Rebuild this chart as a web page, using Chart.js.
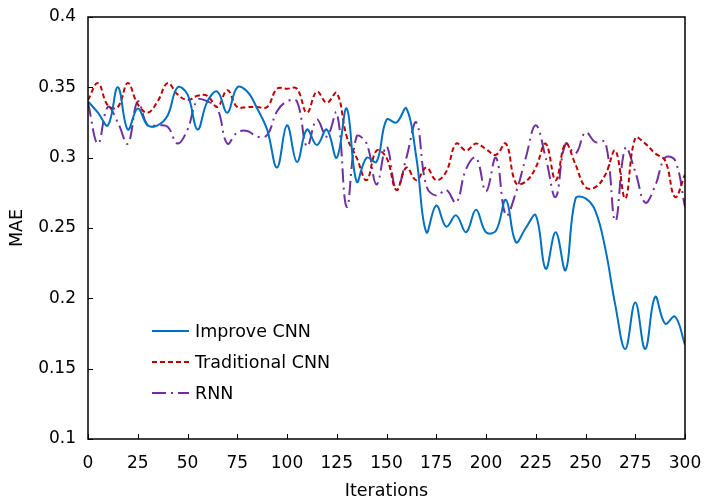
<!DOCTYPE html>
<html lang="en">
<head>
  <meta charset="utf-8">
  <title>MAE vs Iterations</title>
  <script src="https://cdn.jsdelivr.net/npm/chart.js"></script>
  <style>
    body { margin: 0; background: #fff; }
    .wrap { width: 704px; height: 502px; position: relative; }
  </style>
</head>
<body>
  <div class="wrap"><canvas id="maeChart"></canvas></div>

  <script>
    // iteration steps (x axis)
    const iterations = [0, 5, 10, 15, 20, 25, 30, 35, 40, 45, 50, 55, 60, 65, 70, 75, 80, 85, 90, 95,
      100, 105, 110, 115, 120, 125, 130, 135, 140, 145, 150, 155, 160, 165, 170, 175, 180, 185, 190, 195,
      200, 205, 210, 215, 220, 225, 230, 235, 240, 245, 250, 255, 260, 265, 270, 275, 280, 285, 290, 295, 300];

    const improveCnn = [0.340, 0.332, 0.323, 0.350, 0.320, 0.335, 0.323, 0.323, 0.330, 0.350, 0.345, 0.320, 0.340, 0.347, 0.332, 0.350, 0.347, 0.335, 0.320, 0.293,
      0.323, 0.297, 0.320, 0.309, 0.320, 0.300, 0.335, 0.283, 0.300, 0.297, 0.327, 0.325, 0.335, 0.300, 0.247, 0.266, 0.251, 0.259, 0.247, 0.263,
      0.247, 0.248, 0.270, 0.240, 0.250, 0.259, 0.221, 0.247, 0.220, 0.271, 0.271, 0.262, 0.235, 0.195, 0.164, 0.197, 0.164, 0.201, 0.182, 0.187, 0.167];

    const traditionalCnn = [0.341, 0.353, 0.337, 0.336, 0.353, 0.338, 0.332, 0.340, 0.353, 0.345, 0.341, 0.344, 0.344, 0.336, 0.348, 0.336, 0.336, 0.336, 0.336, 0.349,
      0.349, 0.349, 0.332, 0.347, 0.339, 0.346, 0.315, 0.300, 0.284, 0.305, 0.300, 0.277, 0.293, 0.284, 0.293, 0.284, 0.290, 0.310, 0.305, 0.310,
      0.306, 0.302, 0.310, 0.282, 0.283, 0.293, 0.310, 0.284, 0.310, 0.295, 0.279, 0.279, 0.288, 0.305, 0.271, 0.314, 0.310, 0.303, 0.298, 0.272, 0.288];

    const rnn = [0.339, 0.310, 0.336, 0.325, 0.310, 0.340, 0.323, 0.323, 0.322, 0.310, 0.320, 0.341, 0.340, 0.335, 0.310, 0.318, 0.319, 0.315, 0.316, 0.333,
      0.340, 0.340, 0.308, 0.327, 0.315, 0.332, 0.265, 0.315, 0.310, 0.281, 0.308, 0.277, 0.300, 0.325, 0.280, 0.273, 0.277, 0.268, 0.292, 0.300,
      0.276, 0.300, 0.259, 0.275, 0.300, 0.323, 0.300, 0.272, 0.310, 0.303, 0.318, 0.311, 0.311, 0.255, 0.307, 0.290, 0.268, 0.280, 0.300, 0.298, 0.265];

    const seriesNames = ['Improve CNN', 'Traditional CNN', 'RNN'];
    const xTicks = [0, 25, 50, 75, 100, 125, 150, 175, 200, 225, 250, 275, 300];
    const yTicks = [0.1, 0.15, 0.2, 0.25, 0.3, 0.35, 0.4];

    const FONT = 'DejaVu Sans, Verdana, sans-serif';

    function toPoints(values) {
      return values.map((v, i) => ({ x: iterations[i], y: v }));
    }

    // frame box + inward tick marks + legend drawn inside the plot
    const framePlugin = {
      id: 'frame',
      afterDraw(chart) {
        const { ctx, chartArea: a, scales } = chart;
        ctx.save();
        ctx.strokeStyle = '#000';
        ctx.lineWidth = 1.5;
        ctx.setLineDash([]);
        ctx.strokeRect(a.left, a.top, a.right - a.left, a.bottom - a.top);

        ctx.beginPath();
        xTicks.forEach(t => {
          const px = Math.round(scales.x.getPixelForValue(t)) + 0.5;
          ctx.moveTo(px, a.bottom);
          ctx.lineTo(px, a.bottom - 5);
        });
        yTicks.forEach(t => {
          const py = Math.round(scales.y.getPixelForValue(t)) + 0.5;
          ctx.moveTo(a.left, py);
          ctx.lineTo(a.left + 5, py);
        });
        ctx.lineWidth = 1;
        ctx.stroke();

        // legend
        const rows = [108, 77, 46];
        ctx.font = '17.5px ' + FONT;
        ctx.textBaseline = 'middle';
        ctx.fillStyle = '#000';
        chart.data.datasets.forEach((ds, i) => {
          const y = a.bottom - rows[i];
          ctx.beginPath();
          ctx.strokeStyle = ds.borderColor;
          ctx.lineWidth = 2;
          ctx.setLineDash(ds.borderDash || []);
          ctx.moveTo(a.left + 64, y);
          ctx.lineTo(a.left + 101, y);
          ctx.stroke();
          ctx.setLineDash([]);
          ctx.fillText(ds.label, a.left + 107, y + 1);
        });
        ctx.restore();
      }
    };

    window.onload = function () {
      const ctx = document.getElementById('maeChart').getContext('2d');
      new Chart(ctx, {
        type: 'line',
        data: {
          datasets: [
            {
              label: seriesNames[0],
              data: toPoints(improveCnn),
              borderColor: '#0070C0',
              borderWidth: 2,
              tension: 0.4
            },
            {
              label: seriesNames[1],
              data: toPoints(traditionalCnn),
              borderColor: '#C00000',
              borderWidth: 2,
              borderDash: [5, 3],
              tension: 0.4
            },
            {
              label: seriesNames[2],
              data: toPoints(rnn),
              borderColor: '#7030A0',
              borderWidth: 2,
              borderDash: [14, 5, 2, 5],
              tension: 0.4
            }
          ]
        },
        options: {
          responsive: true,
          maintainAspectRatio: false,
          animation: false,
          elements: { point: { radius: 0 } },
          layout: { padding: { top: 17, right: 19, left: 0, bottom: 0 } },
          plugins: {
            legend: { display: false },
            tooltip: { enabled: false }
          },
          scales: {
            x: {
              type: 'linear',
              min: 0,
              max: 300,
              afterFit: s => { s.height = 63; s.paddingLeft = 0; s.paddingRight = 0; },
              afterBuildTicks: s => { s.ticks = xTicks.map(v => ({ value: v })); },
              grid: { display: false, drawTicks: false },
              border: { display: false },
              ticks: { color: '#000', font: { family: FONT, size: 17 }, padding: 14, maxRotation: 0 },
              title: { display: true, text: 'Iterations', color: '#000', font: { family: FONT, size: 17.5 }, padding: { top: 0, bottom: 0 } }
            },
            y: {
              min: 0.1,
              max: 0.4,
              afterFit: s => { s.width = 88; s.paddingTop = 0; s.paddingBottom = 0; },
              afterBuildTicks: s => { s.ticks = yTicks.map(v => ({ value: v })); },
              grid: { display: false, drawTicks: false },
              border: { display: false },
              ticks: { color: '#000', font: { family: FONT, size: 17 }, padding: 12, callback: v => String(+v.toFixed(2)) },
              title: { display: true, text: 'MAE', color: '#000', font: { family: FONT, size: 17.5 }, padding: { top: 7, bottom: 0 } }
            }
          }
        },
        plugins: [framePlugin]
      });
    };
  </script>
</body>
</html>
